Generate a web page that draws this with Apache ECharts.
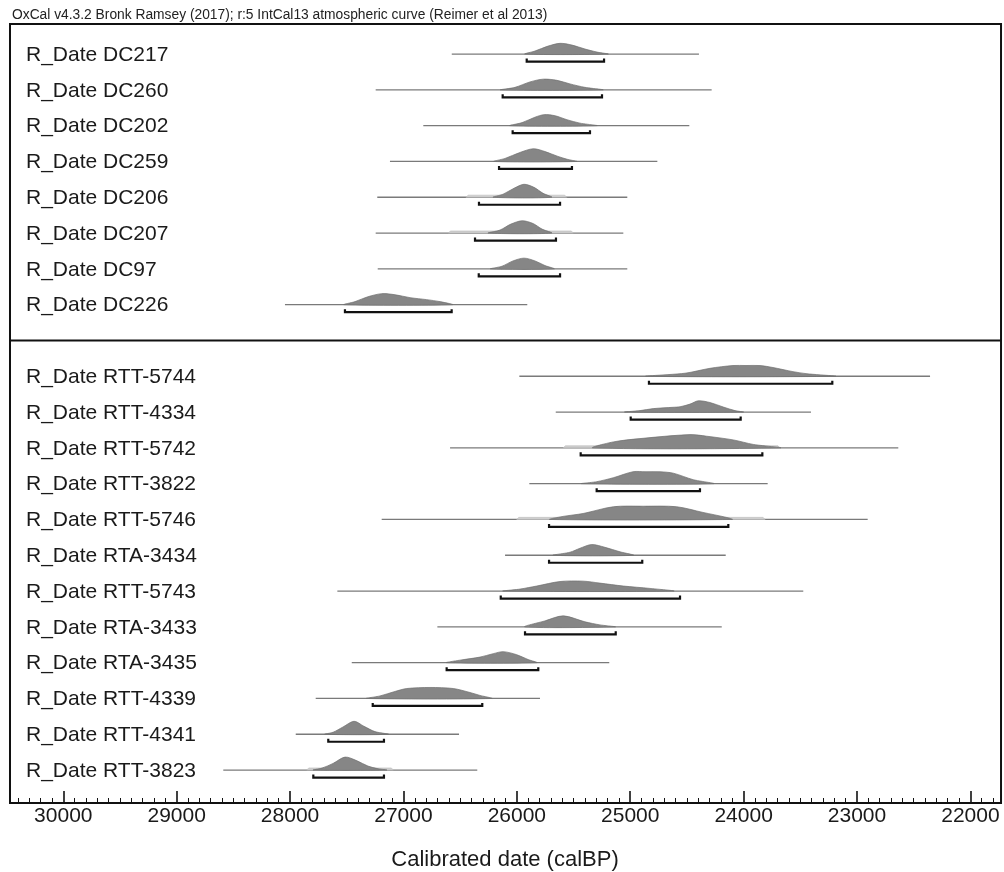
<!DOCTYPE html>
<html><head><meta charset="utf-8">
<script src="https://cdn.jsdelivr.net/npm/echarts@6/dist/echarts.min.js"></script>
<style>html,body{margin:0;padding:0;background:#fff}#c{width:1004px;height:872px}</style>
</head><body><div id="c"></div>
<script>
// ---- data (years calBP) ----
const chartTitle = 'OxCal v4.3.2 Bronk Ramsey (2017); r:5 IntCal13 atmospheric curve (Reimer et al 2013)';
const axisTitle = 'Calibrated date (calBP)';
const tickStep = 1000;          // major tick step (years)
const minorPerMajor = 10;       // minor ticks per major step
const axisYears = [21000, 31000];
const frameYears = [30470, 21730];

const groupALabels = ['R_Date DC217','R_Date DC260','R_Date DC202','R_Date DC259','R_Date DC206','R_Date DC207','R_Date DC97','R_Date DC226'];
const groupBLabels = ['R_Date RTT-5744','R_Date RTT-4334','R_Date RTT-5742','R_Date RTT-3822','R_Date RTT-5746','R_Date RTA-3434','R_Date RTT-5743','R_Date RTA-3433','R_Date RTA-3435','R_Date RTT-4339','R_Date RTT-4341','R_Date RTT-3823'];

// full plotted range of each distribution (thin line)
const rangeA = [[26574,24394],[27245,24282],[26825,24479],[27119,24761],[27231,25026],[27245,25061],[27227,25026],[28045,25908]];
const rangeB = [[25978,22356],[25657,23406],[26589,22636],[25890,23788],[27192,22906],[26104,24158],[27583,23474],[26701,24193],[27456,25185],[27774,25796],[27950,26510],[28589,26349]];

// 95.4% ranges (brackets)
const hpdA = [[25913,25231],[26125,25249],[26037,25355],[26157,25514],[26334,25619],[26369,25655],[26336,25619],[27516,26575]];
const hpdB = [[24835,23218],[24996,24026],[25437,23835],[25296,24385],[25716,24135],[25716,24894],[26142,24561],[25928,25128],[26619,25811],[27271,26305],[27663,27172],[27795,27172]];

// faint (unmodelled) likelihood extents
const lightA = [null,null,null,null,[26448,25560],[26604,25502],null,null];
const lightB = [null,null,[25590,23679],null,[26001,23811],null,null,null,null,null,null,[27853,27089]];

// probability curves: [year, relative density]
const curvesA = [
  [[25928,0],[25840,0.23],[25725,0.6],[25619,0.81],[25514,0.68],[25399,0.38],[25293,0.15],[25196,0]],
  [[26142,0],[26016,0.19],[25884,0.6],[25767,0.81],[25646,0.72],[25531,0.45],[25399,0.19],[25243,0]],
  [[26060,0],[25954,0.23],[25840,0.64],[25760,0.83],[25663,0.75],[25558,0.45],[25443,0.19],[25296,0]],
  [[26201,0],[26104,0.23],[25972,0.68],[25855,0.96],[25752,0.75],[25637,0.38],[25549,0.15],[25472,0]],
  [[26208,0],[26122,0.23],[26025,0.68],[25937,0.98],[25849,0.75],[25769,0.3],[25693,0]],
  [[26252,0],[26148,0.23],[26052,0.68],[25952,0.93],[25857,0.72],[25778,0.3],[25693,0]],
  [[26231,0],[26131,0.2],[26034,0.6],[25937,0.81],[25840,0.6],[25752,0.25],[25672,0]],
  [[27522,0],[27427,0.23],[27313,0.6],[27192,0.83],[27074,0.75],[26942,0.53],[26795,0.38],[26678,0.23],[26569,0]]
];
const curvesB = [
  [[24855,0],[24517,0.23],[24297,0.6],[24094,0.81],[23979,0.81],[23856,0.81],[23741,0.66],[23565,0.35],[23441,0.19],[23194,0]],
  [[25046,0],[24914,0.11],[24797,0.26],[24623,0.36],[24561,0.4],[24473,0.6],[24400,0.85],[24297,0.72],[24179,0.38],[24076,0.11],[24003,0]],
  [[25328,0],[25149,0.45],[24914,0.7],[24473,1.0],[24326,0.88],[24091,0.6],[23915,0.26],[23679,0]],
  [[25428,0],[25296,0.15],[25149,0.45],[24976,0.9],[24861,0.9],[24737,0.9],[24620,0.79],[24444,0.3],[24267,0]],
  [[25708,0],[25593,0.23],[25416,0.45],[25149,0.96],[24887,1.0],[24590,0.96],[24358,0.53],[24149,0.15],[24100,0]],
  [[25678,0],[25531,0.23],[25443,0.53],[25340,0.81],[25223,0.6],[25090,0.26],[24973,0]],
  [[26119,0],[25972,0.15],[25825,0.38],[25619,0.72],[25416,0.75],[25267,0.6],[25061,0.38],[24826,0.2],[24620,0]],
  [[25928,0],[25752,0.45],[25590,0.83],[25399,0.38],[25267,0.15],[25134,0]],
  [[26619,0],[26501,0.19],[26325,0.42],[26208,0.68],[26119,0.83],[26001,0.6],[25899,0.23],[25825,0]],
  [[27324,0],[27207,0.19],[27074,0.53],[26971,0.75],[26766,0.83],[26560,0.75],[26413,0.45],[26325,0.23],[26222,0]],
  [[27692,0],[27621,0.15],[27533,0.55],[27436,0.98],[27348,0.6],[27251,0.2],[27134,0]],
  [[27795,0],[27718,0.15],[27621,0.5],[27515,0.98],[27410,0.7],[27313,0.3],[27224,0.1],[27148,0]]
];

// ---- build rows ----
const rows = [];
groupALabels.forEach((l, i) => rows.push({label:l, row:i, range:rangeA[i], hpd:hpdA[i], light:lightA[i], curve:curvesA[i]}));
const gapRow = groupALabels.length;
groupBLabels.forEach((l, j) => rows.push({label:l, row:gapRow + 1 + j, range:rangeB[j], hpd:hpdB[j], light:lightB[j], curve:curvesB[j]}));
const lastRow = gapRow + groupBLabels.length;

const FONT = '"Liberation Sans", Arial, Helvetica, sans-serif';

function renderRow(params, api) {
  const r = rows[params.dataIndex];
  const unit = api.size([0, 1])[1];
  const hScale = unit * 0.37;
  const y = api.coord([r.range[0], r.row])[1];
  const X = yr => api.coord([yr, r.row])[0];
  const children = [];
  children.push({type:'line', shape:{x1:X(r.range[0]), y1:y, x2:X(r.range[1]), y2:y},
    style:{stroke:'#7a7a7a', lineWidth:1.3}});
  if (r.light) {
    const a = X(r.light[0]), b = X(r.light[1]), lh = 0.16 * hScale;
    children.push({type:'polygon', shape:{points:[[a,y],[a+2,y-lh],[b-2,y-lh],[b,y]]},
      style:{fill:'#cfcfcf', stroke:'#bdbdbd', lineWidth:0.6}});
  }
  const pts = r.curve.map(p => [X(p[0]), y - p[1] * hScale]);
  children.push({type:'polygon', shape:{points:pts, smooth:0.3},
    style:{fill:'#868686', stroke:'#6f6f6f', lineWidth:0.7}});
  const b0 = X(r.hpd[0]), b1 = X(r.hpd[1]);
  const by = y + 7.5;
  children.push({type:'polyline', shape:{points:[[b0,by-3],[b0,by],[b1,by],[b1,by-3]]},
    style:{stroke:'#111', lineWidth:2.2, fill:'none'}});
  children.push({type:'text', x:X(frameYears[0]) + 16, y:y + 1,
    style:{text:r.label, font:'21px ' + FONT, fill:'#1a1a1a', align:'left', verticalAlign:'middle'}});
  return {type:'group', children};
}

function renderFrame(params, api) {
  const cs = params.coordSys;
  const xl = api.coord([frameYears[0], 0])[0], xr = api.coord([frameYears[1], 0])[0];
  const ys = api.coord([frameYears[0], gapRow])[1];
  const bottom = cs.y + cs.height;
  return {type:'group', children:[
    // hide axis ticks that fall outside the frame
    {type:'rect', shape:{x:cs.x, y:bottom - 16, width:xl - 1.5 - cs.x, height:17}, style:{fill:'#fff'}},
    {type:'rect', shape:{x:xl, y:cs.y, width:xr - xl, height:cs.height}, style:{fill:'none', stroke:'#111', lineWidth:2}},
    {type:'line', shape:{x1:xl, y1:ys, x2:xr, y2:ys}, style:{stroke:'#111', lineWidth:2}}
  ]};
}

const chart = echarts.init(document.getElementById('c'), null, {renderer:'canvas'});
chart.setOption({
  animation:false,
  backgroundColor:'#fff',
  title:{text:chartTitle, left:12, top:8, padding:0,
    textStyle:{fontSize:13.8, fontWeight:'normal', color:'#222', fontFamily:FONT}},
  grid:{left:-50.1, right:-79.8, top:24, bottom:69, containLabel:false, outerBoundsMode:'none'},
  xAxis:{type:'value', min:axisYears[0], max:axisYears[1], interval:tickStep, inverse:true,
    axisLine:{show:false, onZero:false},
    axisTick:{show:true, inside:true, length:12, lineStyle:{color:'#111', width:1.6}},
    minorTick:{show:true, splitNumber:minorPerMajor, length:5, lineStyle:{color:'#111', width:1}},
    splitLine:{show:false},
    axisLabel:{fontSize:21, color:'#1a1a1a', margin:3, fontFamily:FONT, formatter:v => String(v)}},
  yAxis:{type:'value', min:-0.84, max:lastRow + 0.92, inverse:true, show:false},
  graphic:[{type:'text', x:505, y:860,
    style:{text:axisTitle, font:'22px ' + FONT, fill:'#1a1a1a', align:'center', verticalAlign:'middle'}}],
  series:[
    {type:'custom', renderItem:renderRow, data:rows.map(r => [r.range[0], r.row]), silent:true, z:2},
    {type:'custom', renderItem:renderFrame, data:[[frameYears[0], gapRow]], silent:true, z:5}
  ]
});
</script></body></html>
